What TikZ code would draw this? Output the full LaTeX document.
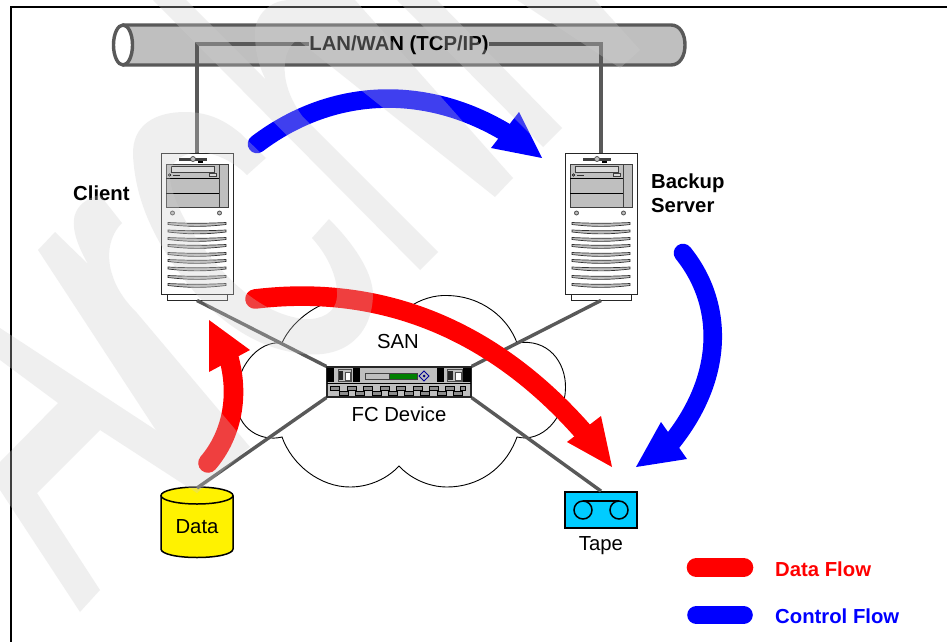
\documentclass[tikz,border=0pt]{standalone}
\usepackage{fontspec}
\setmainfont{Liberation Sans}
\definecolor{pipegray}{RGB}{191,191,191}
\definecolor{linkgray}{RGB}{89,89,89}
\definecolor{markgray}{RGB}{206,206,206}
\definecolor{tapeblue}{RGB}{0,204,255}
\definecolor{okgreen}{RGB}{0,128,0}
\newcommand{\px}{\fontsize{20.3}{24}\selectfont}
\newcommand{\towerart}[1]{%
\begin{scope}[shift={(#1,0)}]
  \fill[black!75] (179,157.5) rectangle (207,160.5);
  \draw[black!70,fill=pipegray,line width=.7] (193,159) circle (2.5);
  \fill[black] (198,161) rectangle (203,163);
  \draw[black!75,fill=pipegray,line width=1] (166,164) rectangle (228,207);
  \draw[black!75,line width=1] (219,164) -- (219,207);
  \draw[black,line width=1] (166,178) -- (219,178);
  \draw[black,line width=.9] (166,193) -- (219,193);
  \draw[black!75,fill=pipegray!60,line width=.8] (171,166.5) rectangle (214,172.5);
  \draw[black,line width=.6] (169.5,175) circle (1.2);
  \fill[black!80] (173,174.5) rectangle (180,176);
  \draw[black!75,fill=pipegray!60,line width=.6] (209,173.5) rectangle (216,176.5);
  \draw[black!70,fill=pipegray,line width=.8] (172.5,213) circle (2);
  \draw[black!70,fill=pipegray,line width=.8] (219.5,213) circle (2);
  \foreach \vy in {224,231.5,239,246,254,261,268.5,277,285} {
    \draw[black!80,fill=pipegray,line width=.7]
      (168,\vy-1.5) .. controls (190,\vy-.5) and (204,\vy-.5) .. (226,\vy-1.5)
      -- (226,\vy+.5) .. controls (204,\vy+3) and (190,\vy+3) .. (168,\vy+.5) -- cycle;
  }
\end{scope}}
\tikzset{
  txt/.style={inner sep=0pt,font=\px,text=black},
  boldtxt/.style={txt,font=\px\bfseries},
  link/.style={draw=linkgray,line width=3.4pt},
  towerbox/.style={draw=black!85,fill=white,line width=1pt,inner sep=0pt,minimum width=72pt,minimum height=141pt},
  towerfoot/.style={draw=black!85,fill=white,line width=1pt,inner sep=0pt,minimum width=60pt,minimum height=6pt},
  bluearc/.style={draw=blue,line width=18.6pt,line cap=round},
  redarc/.style={draw=red,line width=19.6pt,line cap=round},
  slot/.style={draw=black,fill=black!45,line width=.6pt}
}
\begin{document}
\begin{tikzpicture}[x=1pt,y=-1pt]
\useasboundingbox (0,0) rectangle (947,642);
\fill[white] (0,0) rectangle (947,642);
\draw[black,line width=1.1pt] (947,7) -- (11,7) -- (11,642);

% pipe
\draw[draw=linkgray,fill=pipegray,line width=3.4pt]
  (123,25) -- (671,25) .. controls (680,25) and (685,34) .. (685,45)
  .. controls (685,56) and (680,65) .. (671,65) -- (123,65);
\draw[draw=linkgray,fill=white,line width=3.4pt] (123,45) ellipse (9.5 and 20);
\node[boldtxt,anchor=base] (lan) at (399,51) {LAN/WAN (TCP/IP)};

% cloud
\draw[black,fill=white,line width=.9pt]
  (282,343) .. controls (292,320) and (322,297) .. (358,296)
  .. controls (375,296) and (392,299) .. (408,308)
  .. controls (420,299) and (435,295) .. (447,295.5)
  .. controls (482,296) and (508,318) .. (517,343)
  .. controls (548,338) and (566,362) .. (565.5,388)
  .. controls (565,418) and (542,443) .. (517,437)
  .. controls (505,470) and (477,487) .. (447,487)
  .. controls (428,487) and (410,478) .. (399,466)
  .. controls (388,478) and (370,487) .. (350,487)
  .. controls (320,487) and (292,465) .. (282,437)
  .. controls (262,442) and (237,430) .. (236,400)
  .. controls (235,368) and (258,340) .. (282,343) -- cycle;

% towers
\node[towerbox] (client) at (197,223.5) {};
\node[towerfoot] (clientfoot) at (197,297) {};
\towerart{0}
\node[towerbox] (server) at (601,223.5) {};
\node[towerfoot] (serverfoot) at (601,297) {};
\towerart{404}

% switch
\node[draw=black!85,fill=pipegray,line width=1.2pt,inner sep=0pt,minimum width=144pt,minimum height=30pt] (switch) at (399,382) {};
\draw[black,line width=1pt] (327,383) -- (471,383);
\foreach \bx/\bw in {327/7,353/7,437/7,463/8} \fill[black] (\bx,368) rectangle (\bx+\bw,382);
\fill[black!85] (338,371) rectangle (343,380);
\draw[black!70,fill=white,line width=.5pt] (345,372) rectangle (350,380);
\fill[black!85] (448,371) rectangle (453,380);
\draw[black!70,fill=white,line width=.5pt] (455,372) rectangle (461,380);
\draw[black!70,line width=.7pt] (338,369.5) rectangle (351,381);
\draw[black!70,line width=.7pt] (447,369.5) rectangle (462,381);
\draw[black!75,fill=pipegray,line width=.8pt] (365,373) rectangle (389,379);
\draw[black!75,fill=okgreen,line width=.8pt] (389,373) rectangle (417,379);
\draw[blue!60!black,fill=pipegray,line width=1pt] (424,371) -- (429,376) -- (424,381) -- (419,376) -- cycle;
\fill[blue!50!black] (424,376) circle (1.5);
\foreach \sx in {330,347,363,380,396,413,429,445} \draw[slot] (\sx,386.5) rectangle (\sx+9,390);
\draw[slot] (460,386.5) rectangle (465,390);
\foreach \sx in {339,355,372,388,404,420,437,453} \draw[slot] (\sx,391.5) rectangle (\sx+9,395);

% data store
\draw[black,fill=yellow,line width=1.5pt]
  (161,495.5) -- (161,549) .. controls (161,554) and (177,557.5) .. (197,557.5)
  .. controls (217,557.5) and (233,554) .. (233,549) -- (233,495.5);
\draw[black,fill=yellow,line width=1.5pt] (197,495.5) ellipse (36 and 8.5);
\coordinate (datatop) at (197,488);
\node[txt,anchor=base] (data) at (197,533) {Data};

% tape
\node[draw=black,fill=tapeblue,line width=1.8pt,inner sep=0pt,minimum width=72pt,minimum height=36pt] (tape) at (601,510) {};
\draw[black,line width=1.5pt] (583,510) circle (9);
\draw[black,line width=1.5pt] (619,510) circle (9);
\draw[black,line width=1.5pt] (583,501) -- (619,501);
\node[txt,anchor=base] (tapelabel) at (601,550) {Tape};

% connectors
\draw[link] (lan.west |- 0,44) -| (client.north);
\draw[link] (lan.east |- 0,44) -| (server.north);
\draw[link] (clientfoot.south) -- (switch.north west);
\draw[link] (serverfoot.south) -- (switch.north east);
\draw[link] (datatop) -- (switch.south west);
\draw[link] (tape.north) -- (switch.south east);

% labels
\node[boldtxt,anchor=base west] (clientlabel) at (73,200) {Client};
\node[boldtxt,anchor=base west] (backuplabel) at (651,188) {Backup};
\node[boldtxt,anchor=base west] (serverlabel) at (651,212) {Server};
\node[txt,anchor=base] (san) at (398,348) {SAN};
\node[txt,anchor=base] (fc) at (399,421) {FC Device};

% flow arrows
\coordinate (bs1) at (257,144); \coordinate (be1) at (510,135);
\draw[bluearc] (bs1) .. controls (335,85) and (430,85) .. (be1);
\fill[blue] (519,112) -- (542,158) -- (491,148) -- cycle;
\coordinate (bs2) at (683,253); \coordinate (be2) at (667,448);
\draw[bluearc] (bs2) .. controls (725,305) and (725,380) .. (be2);
\fill[blue] (661,422) -- (636,467) -- (687,459) -- cycle;
\coordinate (rs1) at (255,299); \coordinate (re1) at (592,442);
\draw[redarc] (rs1) .. controls (370,285) and (490,320) .. (re1);
\fill[red] (567,442) -- (612,467) -- (601,416) -- cycle;
\coordinate (rs2) at (208,463); \coordinate (re2) at (228,355);
\draw[redarc] (rs2) .. controls (232,435) and (240,395) .. (re2);
\fill[red] (209,372) -- (209,320) -- (250,350) -- cycle;

% legend
\coordinate (l1a) at (696.5,567.5); \coordinate (l1b) at (743.5,567.5);
\coordinate (l2a) at (696.5,615); \coordinate (l2b) at (743.5,615);
\draw[redarc] (l1a) -- (l1b);
\draw[bluearc] (l2a) -- (l2b);
\node[boldtxt,anchor=base west,text=red] (dflow) at (775,576) {Data Flow};
\node[boldtxt,anchor=base west,text=blue] (cflow) at (775,623) {Control Flow};

% watermark
\begin{scope}[transparency group,opacity=.31]
\fill[markgray]
  % A
  (0,328) -- (197,457) -- (197,493) -- (100,430) -- (37,493) -- (100,590) -- (80,612) -- (0,490)
  -- (0,462) -- (58,403) -- (0,360) -- cycle;
\fill[markgray]
  % r
  (55,232) -- (88,264) .. controls (74,240) and (71,222) .. (76,212)
  .. controls (80,203) and (90,197) .. (100,195) -- (122,223)
  .. controls (110,235) and (105,255) .. (113,277)
  .. controls (118,292) and (128,304) .. (137,313) -- (250,447) -- (197,493) -- (38,250) -- cycle;
\fill[markgray]
  % c
  (266,158) -- (240,133) .. controls (222,118) and (205,112) .. (185,112)
  .. controls (155,112) and (132,125) .. (133,155)
  .. controls (135,195) and (150,240) .. (197,295)
  .. controls (225,325) and (260,350) .. (305,354)
  .. controls (345,358) and (372,335) .. (373,295)
  .. controls (373,270) and (350,240) .. (329,219) -- (312,238)
  .. controls (330,258) and (338,280) .. (337,297)
  .. controls (336,312) and (322,320) .. (305,319)
  .. controls (270,316) and (235,290) .. (205,250)
  .. controls (185,225) and (168,190) .. (170,172)
  .. controls (172,158) and (190,150) .. (207,153)
  .. controls (222,156) and (236,164) .. (247,175) -- cycle;
\fill[markgray]
  % h
  (153,0) -- (420,270) -- (438,252) -- (303,117)
  .. controls (290,100) and (283,80) .. (285,63)
  .. controls (286,52) and (291,43) .. (298,40)
  -- (495,197) -- (513,178) -- (355,0) -- (290,0)
  .. controls (270,0) and (255,15) .. (255,33)
  .. controls (255,50) and (258,65) .. (266,80) -- (186,0) -- cycle;
\fill[markgray]
  % i
  (397,0) -- (543,147) -- (562,128) -- (437,0) -- cycle;
\fill[markgray]
  % v
  (517,0) -- (620,68) -- (640,50) -- (595,0) -- cycle;
\end{scope}
\end{tikzpicture}
\end{document}
